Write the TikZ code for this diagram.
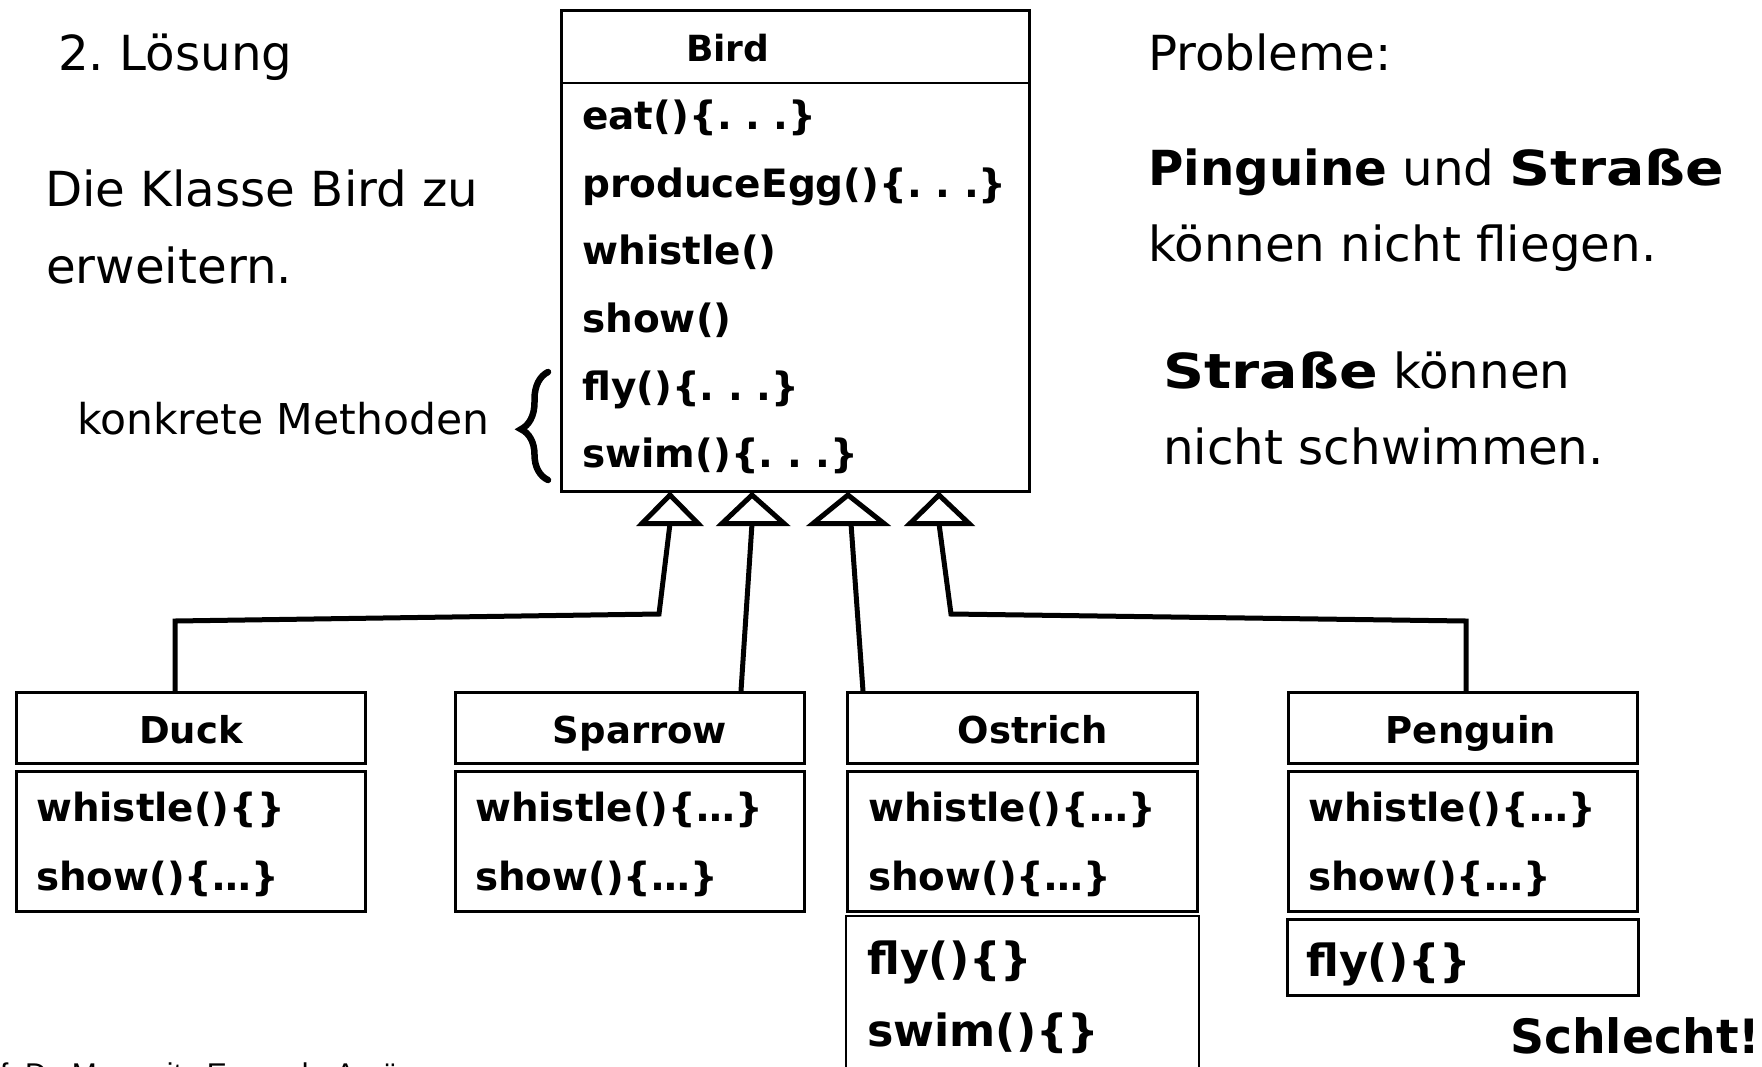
\documentclass[tikz,border=0pt]{standalone}
\usepackage{fontspec}
\usepackage{graphicx}
\setmainfont{DejaVu Sans}
\newfontfamily\footfamily{Liberation Sans}
\usetikzlibrary{decorations.pathreplacing}
\newcommand\birdfont{\fontsize{39}{42}\selectfont\bfseries}
\newcommand\titlefont{\fontsize{37}{40}\selectfont\bfseries}
\newcommand\birdtitlefont{\fontsize{36}{40}\selectfont\bfseries}
\newcommand\subfont{\fontsize{38.8}{40}\selectfont\bfseries}
\newcommand\extrafont{\fontsize{44.3}{46}\selectfont\bfseries}
\newcommand\bigtext{\fontsize{48.3}{52}\selectfont}
\newcommand\midtext{\fontsize{42.5}{46}\selectfont}
\newcommand\badfont{\fontsize{47.3}{50}\selectfont\bfseries}
\newcommand\footfont{\footfamily\fontsize{30}{32}\selectfont}
\newcommand\strasse{\scalebox{1.18}[1]{\textbf{Straße}}}
\tikzset{
  umlbox/.style={draw, line width=2.5pt, inner sep=0pt, anchor=north west},
  boxline/.style={line width=2.5pt},
  conn/.style={line width=5pt, line join=miter},
  tri/.style={line width=5pt, line join=miter, fill=white, draw},
  txt/.style={inner sep=0pt, anchor=base west},
  ctxt/.style={inner sep=0pt, anchor=base},
}
\begin{document}
\frenchspacing
\begin{tikzpicture}[x=1pt,y=-1pt]
\useasboundingbox (0,0) rectangle (1762,1066);
\fill[white] (0,0) rectangle (1762,1066);

% ---------- connectors ----------
\coordinate (b1) at (670,523.5);
\coordinate (b2) at (752,523.5);
\coordinate (b3) at (851,523.5);
\coordinate (b4) at (939,523.5);
\coordinate (d0) at (175,691);
\coordinate (d1) at (175,621);
\coordinate (d2) at (659,614);
\coordinate (s0) at (741,691);
\coordinate (o0) at (863,691);
\coordinate (p0) at (1466,691);
\coordinate (p1) at (1466,621);
\coordinate (p2) at (951,614);
\draw[conn] (d0) -- (d1) -- (d2) -- (b1);
\draw[conn] (s0) -- (b2);
\draw[conn] (o0) -- (b3);
\draw[conn] (p0) -- (p1) -- (p2) -- (b4);

% ---------- triangles (generalisation heads) ----------
\draw[tri] (670,495) -- (642,523.5) -- (698,523.5) -- cycle;
\draw[tri] (752,495) -- (722,523.5) -- (784,523.5) -- cycle;
\draw[tri] (848,495) -- (813,523.5) -- (884,523.5) -- cycle;
\draw[tri] (939,495) -- (910,523.5) -- (969,523.5) -- cycle;

% ---------- Bird ----------
\node[umlbox, minimum width=468pt, minimum height=481pt] (bird) at (560,9) {};
\draw[boxline] ([yshift=-74pt]bird.north west) -- ([yshift=-74pt]bird.north east);
\node[txt, font=\birdtitlefont] (birdname) at (686,61) {Bird};
\node[txt, font=\birdfont] (bm1) at (582,129) {eat()\{. . .\}};
\node[txt, font=\birdfont] (bm2) at (582,197) {produceEgg()\{. . .\}};
\node[txt, font=\birdfont] (bm3) at (582,264) {whistle()};
\node[txt, font=\birdfont] (bm4) at (582,332) {show()};
\node[txt, font=\birdfont] (bm5) at (582,400) {fly()\{. . .\}};
\node[txt, font=\birdfont] (bm6) at (582,467) {swim()\{. . .\}};

% ---------- brace ----------
\coordinate (brbot) at (548,480);
\coordinate (brtop) at (548,372);
\draw[line width=6.5pt, line cap=round, decorate, decoration={brace, amplitude=27pt, aspect=0.47}] (brbot) -- (brtop);
\node[txt, font=\midtext] (konkret) at (77,434) {konkrete Methoden};

% ---------- left texts ----------
\node[txt, font=\bigtext] (loesung) at (58,70) {2. Lösung};
\node[txt, font=\bigtext] (klasse1) at (45,206) {Die Klasse Bird zu};
\node[txt, font=\bigtext] (klasse2) at (46,283) {erweitern.};

% ---------- right texts ----------
\node[txt, font=\bigtext] (probleme) at (1148,70) {Probleme:};
\node[txt, font=\bigtext] (prob1a) at (1148,185) {\textbf{Pinguine} und \strasse};
\node[txt, font=\bigtext] (prob1b) at (1148,261) {können nicht fliegen.};
\node[txt, font=\bigtext] (prob2a) at (1163,388) {\strasse{} können};
\node[txt, font=\bigtext] (prob2b) at (1163,464) {nicht schwimmen.};

% ---------- subclasses ----------
% Duck
\node[umlbox, minimum width=349pt, minimum height=71pt] (duckh) at (15,691) {};
\node[umlbox, minimum width=349pt, minimum height=140pt] (duckm) at (15,770) {};
\node[ctxt, font=\titlefont] (duckn) at (191,743) {Duck};
\node[txt, font=\subfont] (duck1) at (36,821) {whistle()\{\}};
\node[txt, font=\subfont] (duck2) at (36,890) {show()\{…\}};
% Sparrow
\node[umlbox, minimum width=349pt, minimum height=71pt] (sparh) at (454,691) {};
\node[umlbox, minimum width=349pt, minimum height=140pt] (sparm) at (454,770) {};
\node[ctxt, font=\titlefont] (sparn) at (640,743) {Sparrow};
\node[txt, font=\subfont] (spar1) at (475,821) {whistle()\{…\}};
\node[txt, font=\subfont] (spar2) at (475,890) {show()\{…\}};
% Ostrich
\node[umlbox, minimum width=350pt, minimum height=71pt] (ostrh) at (846,691) {};
\node[umlbox, minimum width=350pt, minimum height=140pt] (ostrm) at (846,770) {};
\node[ctxt, font=\titlefont] (ostrn) at (1033,743) {Ostrich};
\node[txt, font=\subfont] (ostr1) at (868,821) {whistle()\{…\}};
\node[txt, font=\subfont] (ostr2) at (868,890) {show()\{…\}};
\draw[boxline] (846,1070) -- (846,916) -- (1199,916) -- (1199,1070);
\node[txt, font=\extrafont] (ostr3) at (867,974) {fly()\{\}};
\node[txt, font=\extrafont] (ostr4) at (867,1046) {swim()\{\}};
% Penguin
\node[umlbox, minimum width=349pt, minimum height=71pt] (pengh) at (1287,691) {};
\node[umlbox, minimum width=349pt, minimum height=140pt] (pengm) at (1287,770) {};
\node[ctxt, font=\titlefont] (pengn) at (1471,743) {Penguin};
\node[txt, font=\subfont] (peng1) at (1308,821) {whistle()\{…\}};
\node[txt, font=\subfont] (peng2) at (1308,890) {show()\{…\}};
\node[umlbox, minimum width=351pt, minimum height=76pt] (pengx) at (1286,918) {};
\node[txt, font=\extrafont] (peng3) at (1306,976) {fly()\{\}};

% ---------- verdict and footer ----------
\node[txt, font=\badfont] (schlecht) at (1510,1053) {Schlecht!};
\node[txt, font=\footfont] (footer) at (0,1084) {f. Dr. Margarita Esponda-Argüero};
\end{tikzpicture}
\end{document}
